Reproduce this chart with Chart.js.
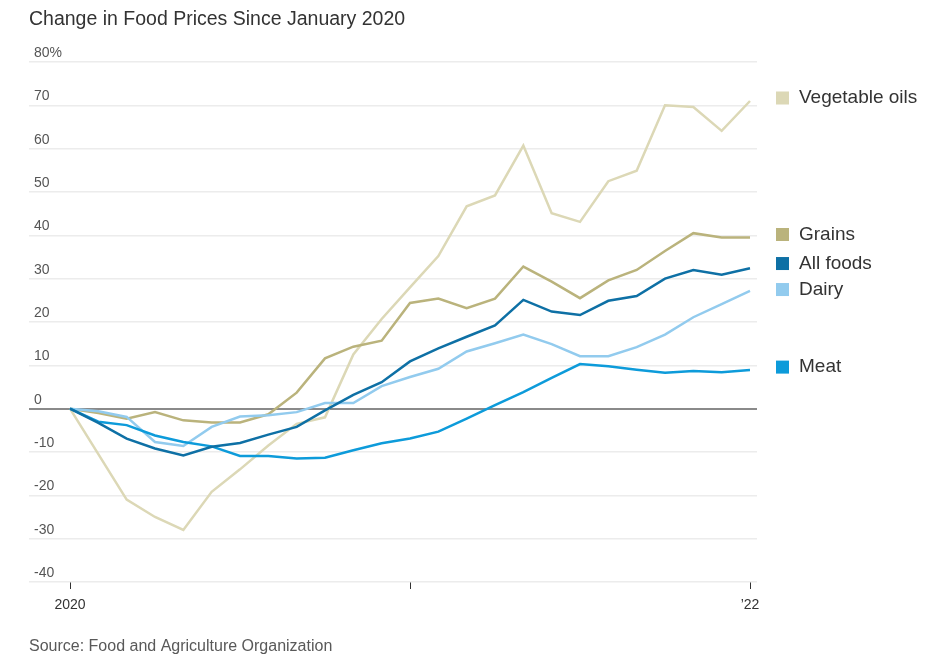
<!DOCTYPE html>
<html>
<head>
<meta charset="utf-8">
<title>Change in Food Prices Since January 2020</title>
<script src="https://cdn.jsdelivr.net/npm/chart.js@4.4.1/dist/chart.umd.min.js"></script>
<style>
    html, body { margin: 0; padding: 0; background: #ffffff; }
    #wrap { position: relative; width: 936px; height: 666px; }
</style>
</head>
<body>
<div id="wrap"><canvas id="foodChart"></canvas></div>
<script>
// Change in FAO food price indexes since January 2020, percent, monthly
const months = [
    '2020-01', '2020-02', '2020-03', '2020-04', '2020-05', '2020-06',
    '2020-07', '2020-08', '2020-09', '2020-10', '2020-11', '2020-12',
    '2021-01', '2021-02', '2021-03', '2021-04', '2021-05', '2021-06',
    '2021-07', '2021-08', '2021-09', '2021-10', '2021-11', '2021-12',
    '2022-01'
];

const vegetableOils = [0, -10.5, -21, -25, -28, -19.2, -14, -8.5, -3.5, -2, 12.5, 20.7, 28,
    35.2, 46.7, 49.2, 60.7, 45.1, 43.1, 52.5, 54.9, 70, 69.6, 64.1, 71];
const grains = [0, -1, -2.3, -0.8, -2.7, -3.2, -3.2, -1.3, 3.7, 11.6, 14.3, 15.7, 24.4,
    25.4, 23.2, 25.4, 32.8, 29.3, 25.5, 29.6, 32, 36.4, 40.5, 39.5, 39.5];
const allFoods = [0, -3.3, -6.9, -9.2, -10.8, -8.8, -7.9, -6, -4.2, -0.4, 3.2, 6.1, 10.9,
    13.9, 16.6, 19.2, 25.1, 22.4, 21.6, 24.9, 26, 30, 32, 30.9, 32.4];
const dairy = [0, -0.6, -1.9, -7.7, -8.6, -4.2, -1.8, -1.5, -0.8, 1.3, 1.3, 5.2, 7.3,
    9.2, 13.2, 15.1, 17.1, 14.9, 12.1, 12.1, 14.2, 17.1, 21.1, 24.1, 27.2];
const meat = [0, -3, -3.8, -6.2, -7.7, -8.7, -10.9, -10.9, -11.5, -11.3, -9.6, -8, -6.9,
    -5.3, -2.3, 0.8, 3.8, 7.1, 10.3, 9.8, 9.0, 8.3, 8.7, 8.4, 8.9];

const seriesNames = ['Vegetable oils', 'Grains', 'All foods', 'Dairy', 'Meat'];
const seriesValues = [vegetableOils, grains, allFoods, dairy, meat];
const seriesColors = ['#dcd8b6', '#bab37c', '#0e70a5', '#92cbee', '#0d9bda'];
const drawOrder = [5, 4, 1, 3, 2];   // lower = drawn on top

const xTickMonths = [0, 12, 24];
const xTickLabels = ['2020', '', '\u201922'];
const yMin = -40;
const yMax = 80;
const yStep = 10;

const FONT = "'Liberation Sans', Arial, sans-serif";

// Title, source line and the end-of-line legend
const labelPlugin = {
    id: 'labels',
    afterDraw(chart) {
        const ctx = chart.ctx;
        ctx.save();
        ctx.textBaseline = 'middle';
        ctx.textAlign = 'left';

        ctx.fillStyle = '#333333';
        ctx.font = '19.5px ' + FONT;
        ctx.fillText('Change in Food Prices Since January 2020', 29, 20);

        ctx.fillStyle = '#595959';
        ctx.font = '16px ' + FONT;
        ctx.fillText('Source: Food and Agriculture Organization', 29, 647);

        // legend entries sit next to each line's last value, nudged apart if they crowd
        const items = chart.data.datasets.map((ds, i) => {
            const meta = chart.getDatasetMeta(i);
            const last = meta.data[meta.data.length - 1];
            return { name: ds.label, color: ds.borderColor, y: last.y - 3 };
        }).sort((a, b) => a.y - b.y);
        const gap = 26;
        for (let pass = 0; pass < 10; pass++) {
            for (let i = 1; i < items.length; i++) {
                const short = gap - (items[i].y - items[i - 1].y);
                if (short > 0) {
                    items[i - 1].y -= short / 2;
                    items[i].y += short / 2;
                }
            }
        }
        ctx.font = '19px ' + FONT;
        items.forEach(item => {
            ctx.fillStyle = item.color;
            ctx.fillRect(776, item.y - 6.5, 13, 13);
            ctx.fillStyle = '#333333';
            ctx.fillText(item.name, 799, item.y);
        });
        ctx.restore();
    }
};

const datasets = seriesNames.map((name, i) => ({
    label: name,
    data: seriesValues[i].map((v, m) => ({ x: m, y: v })),
    borderColor: seriesColors[i],
    backgroundColor: seriesColors[i],
    borderWidth: 2.5,
    pointRadius: 0,
    tension: 0,
    order: drawOrder[i]
}));

const pxPerMonth = (750 - 70) / (months.length - 1);

new Chart(document.getElementById('foodChart'), {
    type: 'line',
    data: { datasets: datasets },
    options: {
        responsive: true,
        maintainAspectRatio: false,
        animation: false,
        layout: { padding: { top: 62, left: 29, right: 179, bottom: 44 } },
        plugins: {
            legend: { display: false },
            tooltip: { enabled: false }
        },
        scales: {
            x: {
                type: 'linear',
                min: -(70 - 29) / pxPerMonth,
                max: (months.length - 1) + (757 - 750) / pxPerMonth,
                afterBuildTicks: scale => {
                    scale.ticks = xTickMonths.map(v => ({ value: v }));
                },
                afterFit: scale => { scale.height = 40; },
                border: { display: false },
                grid: {
                    drawOnChartArea: false,
                    drawTicks: true,
                    tickLength: 7,
                    color: '#333333',
                    lineWidth: 1
                },
                ticks: {
                    autoSkip: false,
                    maxRotation: 0,
                    padding: 8,
                    color: '#333333',
                    font: { family: FONT, size: 14 },
                    callback: (value, index) => xTickLabels[index]
                }
            },
            y: {
                min: yMin,
                max: yMax,
                afterFit: scale => { scale.width = 0; },
                border: { display: false },
                grid: {
                    drawTicks: false,
                    color: c => c.tick && c.tick.value === 0 ? '#8a8a8a' : '#ececec',
                    lineWidth: c => c.tick && c.tick.value === 0 ? 2 : 1.5
                },
                ticks: {
                    stepSize: yStep,
                    mirror: true,
                    padding: 5,
                    labelOffset: -9,
                    color: '#555555',
                    font: { family: FONT, size: 14 },
                    callback: value => value === yMax ? value + '%' : value
                }
            }
        }
    },
    plugins: [labelPlugin]
});
</script>
</body>
</html>
